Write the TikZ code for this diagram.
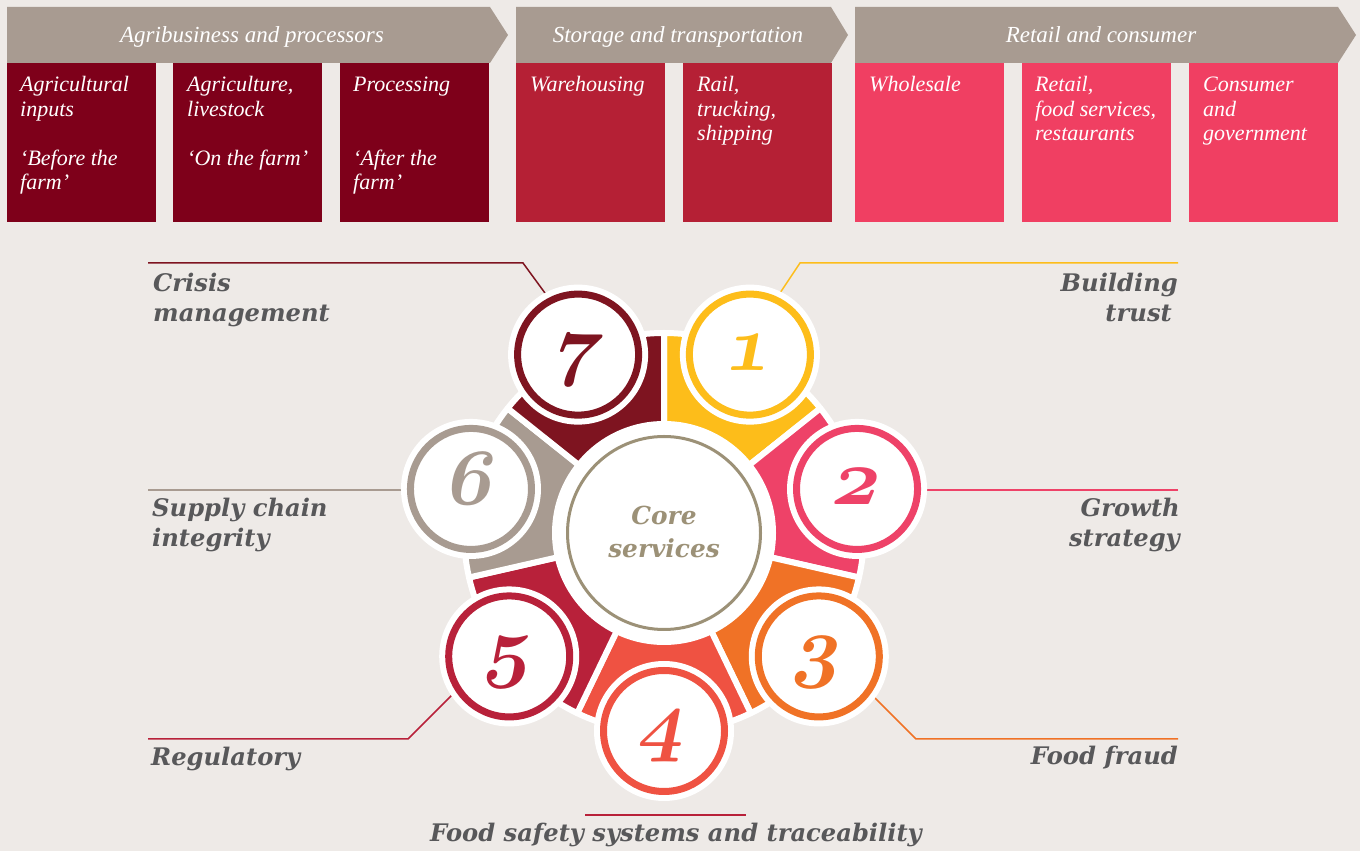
\documentclass[tikz,border=0pt]{standalone}
\usepackage{fontspec}
\setmainfont{Liberation Serif}
\newfontfamily\labfont{DejaVu Serif}
\DeclareFontFamily{OML}{onum}{\skewchar\font=127 }
\DeclareFontShape{OML}{onum}{b}{it}{<-> cmmib10}{}
\definecolor{bg}{HTML}{EEEAE7}
\definecolor{banner}{HTML}{A89B91}
\definecolor{boxA}{HTML}{7E001A}
\definecolor{boxB}{HTML}{B52035}
\definecolor{boxC}{HTML}{F03F62}
\definecolor{secY}{HTML}{FDBD1A}
\definecolor{secP}{HTML}{EE4268}
\definecolor{secO}{HTML}{F07226}
\definecolor{secR}{HTML}{EF5242}
\definecolor{secC}{HTML}{B8213A}
\definecolor{secT}{HTML}{A89B91}
\definecolor{secM}{HTML}{7E1420}
\definecolor{labgray}{HTML}{58585A}
\definecolor{coretxt}{HTML}{9C9177}
\newcommand\linesL[1]{\vtop{\halign{##\hfil\cr#1\crcr}}}
\newcommand\linesR[1]{\vtop{\halign{\hfil##\cr#1\crcr}}}
\newcommand\linesC[1]{\vtop{\halign{\hfil##\hfil\cr#1\crcr}}}
\tikzset{
  bantxt/.style={anchor=base, inner sep=0pt, text=white, font=\itshape\fontsize{23}{23}\selectfont},
  boxtxt/.style={anchor=base west, inner sep=0pt, text=white, font=\itshape\fontsize{22}{24.5}\selectfont},
  lab/.style={inner sep=0pt, text=labgray, font=\labfont\bfseries\itshape\fontsize{24.2}{30}\selectfont},
  coretext/.style={anchor=base, inner sep=0pt, text=coretxt, font=\labfont\bfseries\itshape\fontsize{24.8}{33}\selectfont},
  lline/.style={line width=1.5pt},
  halo/.style={circle, fill=white, minimum size=140pt, inner sep=0pt},
  ring/.style={circle, fill=white, line width=7pt, minimum size=121pt, inner sep=0pt},
  numtxt/.style={anchor=base, inner sep=0pt, transform shape, font=\fontsize{80}{80}\usefont{OML}{onum}{b}{it}},
}
\begin{document}
\begin{tikzpicture}[x=1pt,y=1pt]
\useasboundingbox (0,0) rectangle (1360,851);
\fill[bg] (0,0) rectangle (1360,851);
% banners
\fill[banner] (7,844) -- (490,844) -- (508,816) -- (490,788) -- (7,788) -- cycle;
\fill[banner] (516,844) -- (831,844) -- (848,816) -- (831,788) -- (516,788) -- cycle;
\fill[banner] (855,844) -- (1338,844) -- (1356,816) -- (1338,788) -- (855,788) -- cycle;
\node[bantxt] (b1) at (252,808) {Agribusiness and processors};
\node[bantxt] (b2) at (678,808) {Storage and transportation};
\node[bantxt] (b3) at (1101,808) {Retail and consumer};
% boxes
\foreach \x/\c in {7/boxA,173/boxA,340/boxA,516/boxB,683/boxB,855/boxC,1022/boxC,1189/boxC}
  \fill[\c] (\x,629) rectangle ++(149,159);
\node[boxtxt] (t1) at (20,759) {\linesL{Agricultural\cr inputs\cr\cr ‘Before the\cr farm’}};
\node[boxtxt] (t2) at (187,759) {\linesL{Agriculture,\cr livestock\cr\cr ‘On the farm’}};
\node[boxtxt] (t3) at (353,759) {\linesL{Processing\cr\cr\cr ‘After the\cr farm’}};
\node[boxtxt] (t4) at (530,759) {Warehousing};
\node[boxtxt] (t5) at (697,759) {\linesL{Rail,\cr trucking,\cr shipping}};
\node[boxtxt] (t6) at (869,759) {Wholesale};
\node[boxtxt] (t7) at (1035,759) {\linesL{Retail,\cr food services,\cr restaurants}};
\node[boxtxt] (t8) at (1203,759) {\linesL{Consumer\cr and\cr government}};
% label rules
\coordinate (p7a) at (148,588); \coordinate (p7b) at (523,588); \coordinate (p7c) at (553,547);
\coordinate (p1a) at (1178,588); \coordinate (p1b) at (800,588); \coordinate (p1c) at (772,546);
\coordinate (p6a) at (148,361); \coordinate (p6b) at (420,361);
\coordinate (p2a) at (1178,361); \coordinate (p2b) at (905,361);
\coordinate (p5a) at (148,112); \coordinate (p5b) at (408,112); \coordinate (p5c) at (465,169);
\coordinate (p3a) at (1178,112); \coordinate (p3b) at (916,112); \coordinate (p3c) at (862,166);
\coordinate (p4a) at (585,36); \coordinate (p4b) at (746,36);
\draw[lline, draw=secM] (p7a) -- (p7b) -- (p7c);
\draw[lline, draw=secY] (p1a) -- (p1b) -- (p1c);
\draw[lline, draw=secT] (p6a) -- (p6b);
\draw[lline, draw=secP] (p2a) -- (p2b);
\draw[lline, draw=secC] (p5a) -- (p5b) -- (p5c);
\draw[lline, draw=secO] (p3a) -- (p3b) -- (p3c);
\draw[lline, draw=secC] (p4a) -- (p4b);
% sectors
\foreach \n/\a/\c in {1/64.286/secY,2/12.857/secP,3/-38.571/secO,4/-90/secR,5/-141.429/secC,6/167.143/secT,7/115.714/secM}{
  \filldraw[fill=\c, draw=white, line width=6pt, line join=round, shift={(664,318)}]
    (\a-25.714:108) -- (\a-25.714:200) arc[start angle=\a-25.714, end angle=\a+25.714, radius=200pt]
    -- (\a+25.714:108) arc[start angle=\a+25.714, end angle=\a-25.714, radius=108pt] -- cycle;
}
% core
\fill[white] (664,318) circle[radius=112pt];
\node[circle, draw=coretxt, line width=3pt, minimum size=193pt, inner sep=0pt] (core) at (664,318) {};
\node[coretext] (ctext) at (664,326) {\linesC{Core\cr services}};
% numbered circles
\foreach \n/\a/\c in {1/64.286/secY,2/12.857/secP,3/-38.571/secO,4/-90/secR,5/-141.429/secC,6/167.143/secT,7/115.714/secM}{
  \node[halo] (h\n) at ([shift={(664,318)}]\a:198) {};
  \node[ring, draw=\c] (c\n) at (h\n) {};
  \begin{scope}[shift={(c\n)}, xslant=0.2]
    \node[numtxt, text=\c] (d\n) at (0,-16) {\n};
  \end{scope}
}
% labels
\node[lab, anchor=base west] (lcrisis) at (153,559) {\linesL{Crisis\cr management}};
\node[lab, anchor=base east] (ltrust) at (1178,559) {\linesR{Building\cr trust\kern6pt}};
\node[lab, anchor=base west] (lsupply) at (152,334) {\linesL{Supply chain\cr integrity}};
\node[lab, anchor=base east] (lgrowth) at (1180,334) {\linesR{Growth\cr strategy}};
\node[lab, anchor=base west] (lreg) at (151,85) {Regulatory};
\node[lab, anchor=base east] (lfraud) at (1178,86) {Food fraud};
\node[lab, anchor=base] (lsafety) at (676,9) {Food safety systems and traceability};
\end{tikzpicture}
\end{document}
